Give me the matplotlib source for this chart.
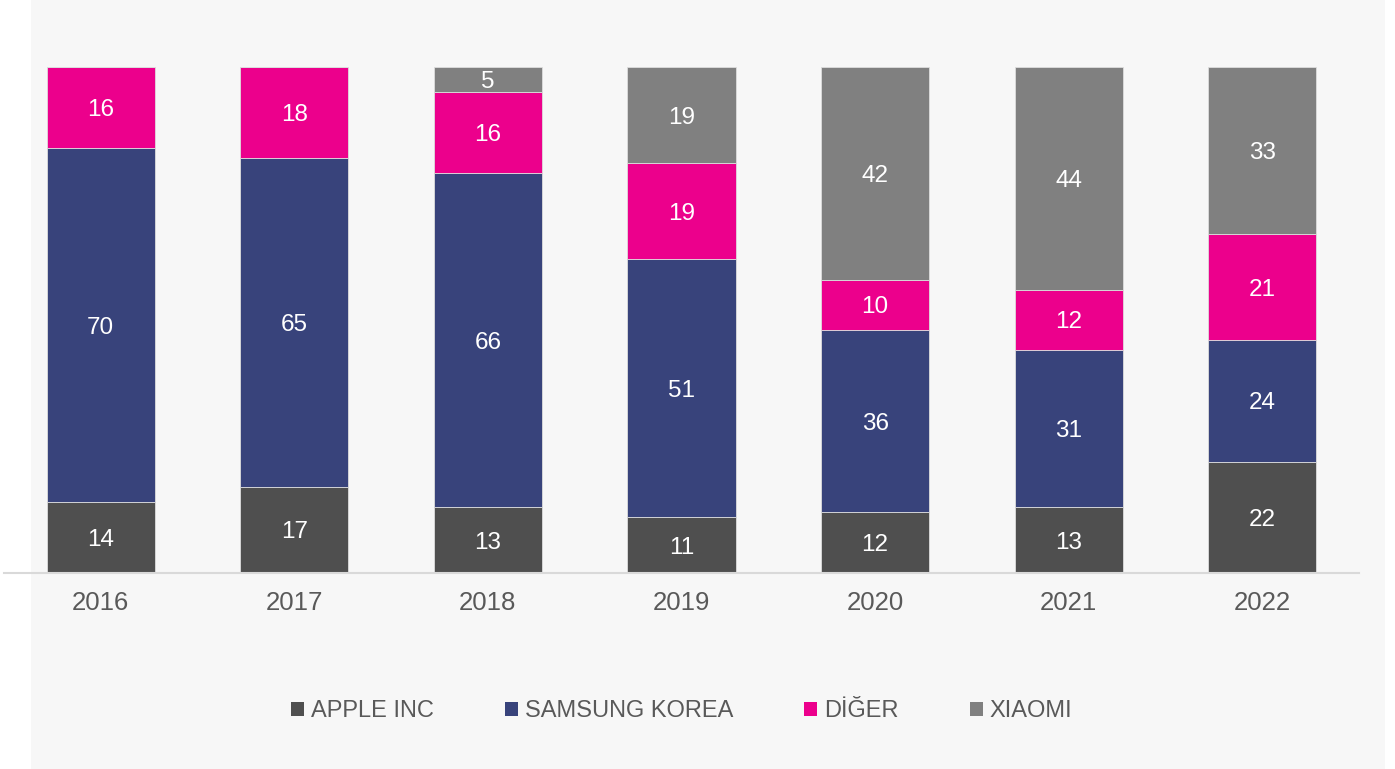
import numpy as np
import matplotlib.pyplot as plt
from matplotlib.patches import Rectangle, Patch

plt.rcParams['font.family'] = ['Liberation Sans', 'DejaVu Sans']

years = ["2016", "2017", "2018", "2019", "2020", "2021", "2022"]
series = ["APPLE INC", "SAMSUNG KOREA", "DİĞER", "XIAOMI"]
apple = [14, 17, 13, 11, 12, 13, 22]
samsung = [70, 65, 66, 51, 36, 31, 24]
diger = [16, 18, 16, 19, 10, 12, 21]
xiaomi = [0, 0, 5, 19, 42, 44, 33]
colors = ["#4f4f4f", "#38437b", "#ec008c", "#808080"]

fig = plt.figure(figsize=(13.95, 7.69), dpi=100)
fig.patch.set_facecolor("white")
# light panel behind the chart
fig.patches.append(Rectangle((31 / 1395, 0), (1385 - 31) / 1395, 1, transform=fig.transFigure,
                             facecolor="#f7f7f7", edgecolor="none", zorder=-5))

ax = fig.add_axes([4 / 1395, 1 - 573 / 769, (1359 - 4) / 1395, (573 - 67) / 769])
ax.set_facecolor("none")

x = np.arange(len(years))
bottom = np.zeros(len(years))
for name, vals, col in zip(series, [apple, samsung, diger, xiaomi], colors):
    vals = np.array(vals, dtype=float)
    ax.bar(x, vals, bottom=bottom, width=0.558, color=col, edgecolor="#dddddd", linewidth=0.6, zorder=2)
    for xi, b, v in zip(x, bottom, vals):
        if v > 0:
            ax.text(xi, b + v / 2, f"{int(v)}", ha="center", va="center_baseline", color="white",
                    fontsize=17.5, zorder=3)
    bottom += vals

ax.set_xlim(-0.5, 6.5)
ax.set_ylim(0, 100)
ax.set_yticks([])
ax.set_xticks(x)
ax.set_xticklabels(years, fontsize=18.5, color="#595959")
ax.tick_params(axis="x", length=0, pad=13)
for s in ["top", "right", "left"]:
    ax.spines[s].set_visible(False)
ax.spines["bottom"].set_color("#d9d9d9")
ax.spines["bottom"].set_linewidth(1.5)

handles = [Patch(facecolor=c, edgecolor="none") for c in colors]
leg = fig.legend(handles, series, loc="center", bbox_to_anchor=(682 / 1395, 1 - 711 / 769), ncol=4,
                 frameon=False, fontsize=17, handlelength=0.55, handleheight=0.55, handletextpad=0.3,
                 columnspacing=3.0)
for t in leg.get_texts():
    t.set_color("#595959")

fig.savefig("out.png", dpi=100, facecolor=fig.get_facecolor())
